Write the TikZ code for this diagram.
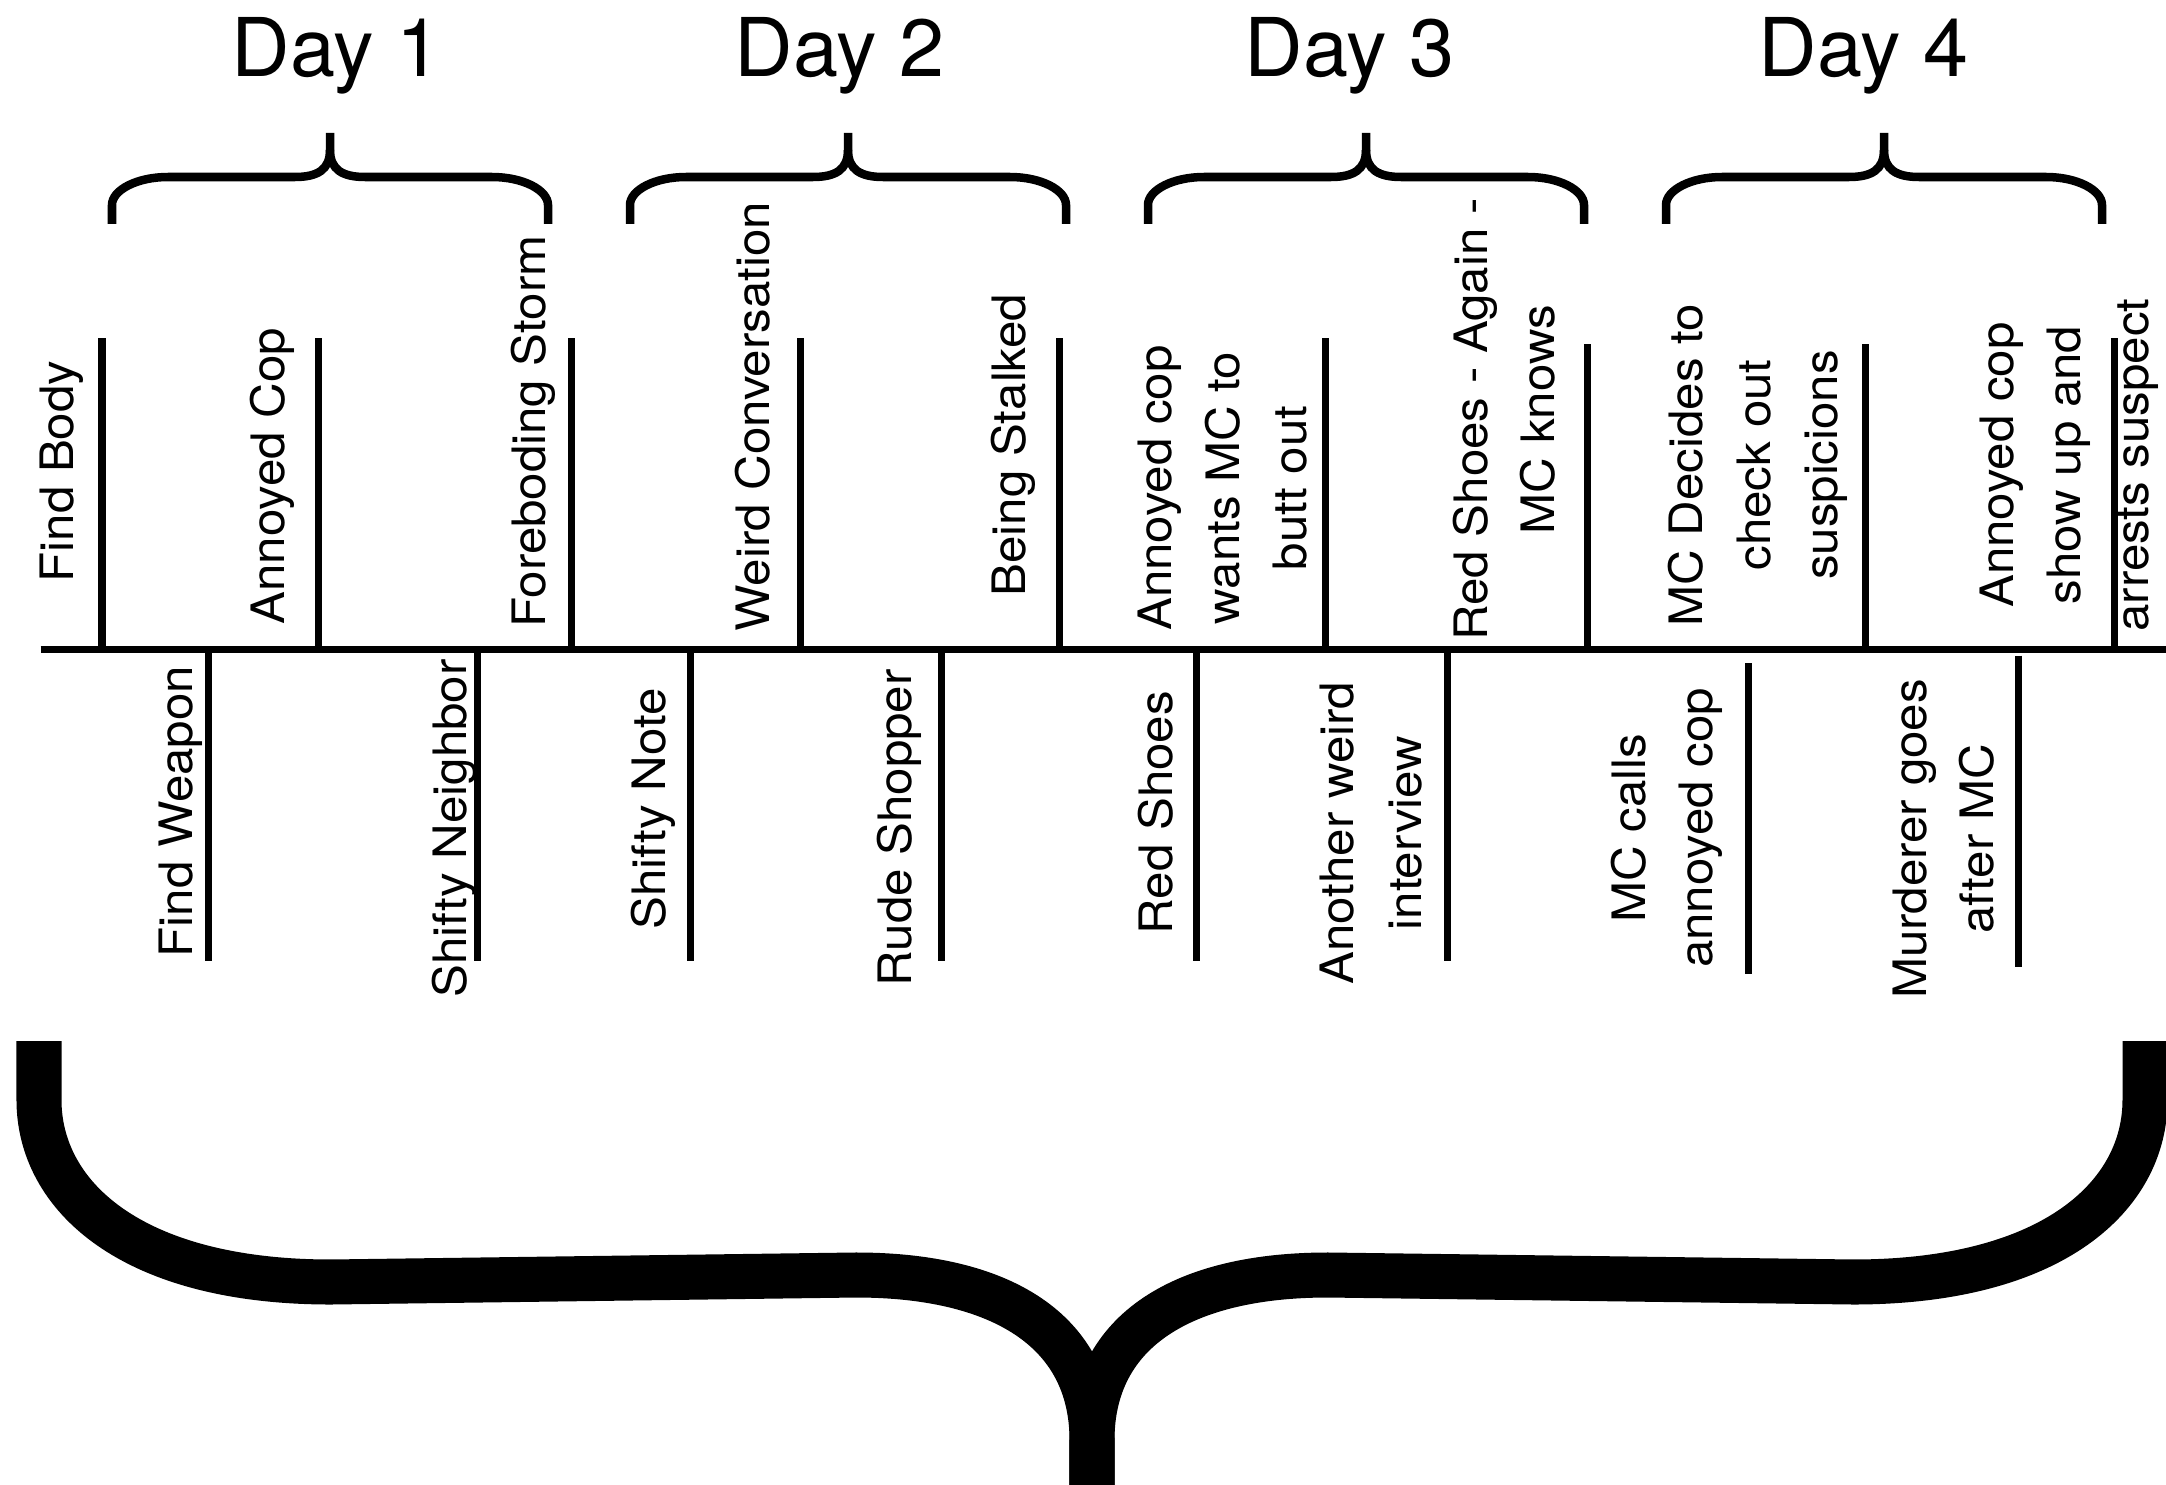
\documentclass[tikz,border=0pt]{standalone}
\usepackage{fontspec}
\setmainfont{TeX Gyre Heros}
\newfontfamily\evtfont[FakeStretch=1.07]{TeX Gyre Heros}

\begin{document}
\begin{tikzpicture}[
  x=0.01cm, y=-0.01cm,
  evt/.style={rotate=90, inner sep=0pt, font=\evtfont\fontsize{13.09}{19.19}\selectfont},
  evtm/.style={evt, align=center},
  day/.style={inner sep=0pt, anchor=base west, font=\fontsize{23.05}{27}\selectfont},
  tick/.style={line width=0.07cm},
  brace/.style={line width=0.085cm},
  bigbrace/.style={line width=0.45cm},
]
\useasboundingbox (0,0) rectangle (2166,1485);

% day titles
\node[day] (d1) at (231,77)  {Day 1};
\node[day] (d2) at (734,77)  {Day 2};
\node[day] (d3) at (1244,77) {Day 3};
\node[day] (d4) at (1758,77) {Day 4};

% one brace per day
\foreach \l in {112,630,1148,1666} {
  \draw[brace] (\l,224) -- (\l,205) .. controls (\l,190) and (\l+25,177) .. (\l+56,177)
    -- (\l+183,177) .. controls (\l+205,177) and (\l+218,170) .. (\l+218,150) -- (\l+218,133);
  \draw[brace] (\l+436,224) -- (\l+436,205) .. controls (\l+436,190) and (\l+411,177) .. (\l+380,177)
    -- (\l+253,177) .. controls (\l+231,177) and (\l+218,170) .. (\l+218,150);
}

% timeline and ticks
\draw[tick] (40.5,649) -- (2170,649);
\foreach \x in {102,318.6,571,800,1059,1325,2114}
  \draw[tick] (\x,338) -- (\x,649);
\foreach \x in {1587.6,1865}
  \draw[tick] (\x,344) -- (\x,653);
\foreach \x in {208.6,477.4,690.6,941,1196,1447.7}
  \draw[tick] (\x,649) -- (\x,960.7);
\draw[tick] (1748,663) -- (1748,974);
\draw[tick] (2018.6,655.7) -- (2018.6,966.7);

% events above the line
\node[evt, anchor=base west] (fb) at (73.7,583) {Find Body};
\node[evt, anchor=base west] (ac) at (284,625)  {Annoyed Cop};
\node[evt, anchor=base west] (fs) at (545,628)  {Foreboding Storm};
\node[evt, anchor=base west] (wc) at (769,632)  {Weird Conversation};
\node[evt, anchor=base west] (bs) at (1025,597) {Being Stalked};
\node[evtm] (acw) at (1223,488)   {Annoyed cop\\wants MC to\\butt out};
\node[evtm] (rsa) at (1504,419.5) {Red Shoes - Again -\\MC knows};
\node[evtm] (mcd) at (1758,465)   {MC Decides to\\check out\\suspicions};
\node[evtm] (acs) at (2069,465)   {Annoyed cop\\show up and\\arrests suspect};

% events below the line
\node[evt, anchor=base west] (fw)  at (192,958)   {Find Weapon};
\node[evt, anchor=base west] (sn)  at (466,998)   {Shifty Neighbor};
\node[evt, anchor=base west] (sno) at (665,930)   {Shifty Note};
\node[evt, anchor=base west] (rsh) at (911.5,987) {Rude Shopper};
\node[evt, anchor=base west] (rs)  at (1172,935)  {Red Shoes};
\node[evtm] (awi) at (1371,833)   {Another weird\\interview};
\node[evtm] (mcc) at (1667,828)   {MC calls\\annoyed cop};
\node[evtm] (mga) at (1943.5,839) {Murderer goes\\after MC};

% the whole story
\draw[bigbrace] (39,1041) -- (39,1100) .. controls (39,1195) and (130,1282) .. (331,1282)
  -- (856,1275) .. controls (1000,1275) and (1092,1330) .. (1092,1440) -- (1092,1500);
\draw[bigbrace] (2145,1041) -- (2145,1100) .. controls (2145,1195) and (2054,1282) .. (1853,1282)
  -- (1328,1275) .. controls (1184,1275) and (1092,1330) .. (1092,1440) -- (1092,1500);
\end{tikzpicture}
\end{document}
